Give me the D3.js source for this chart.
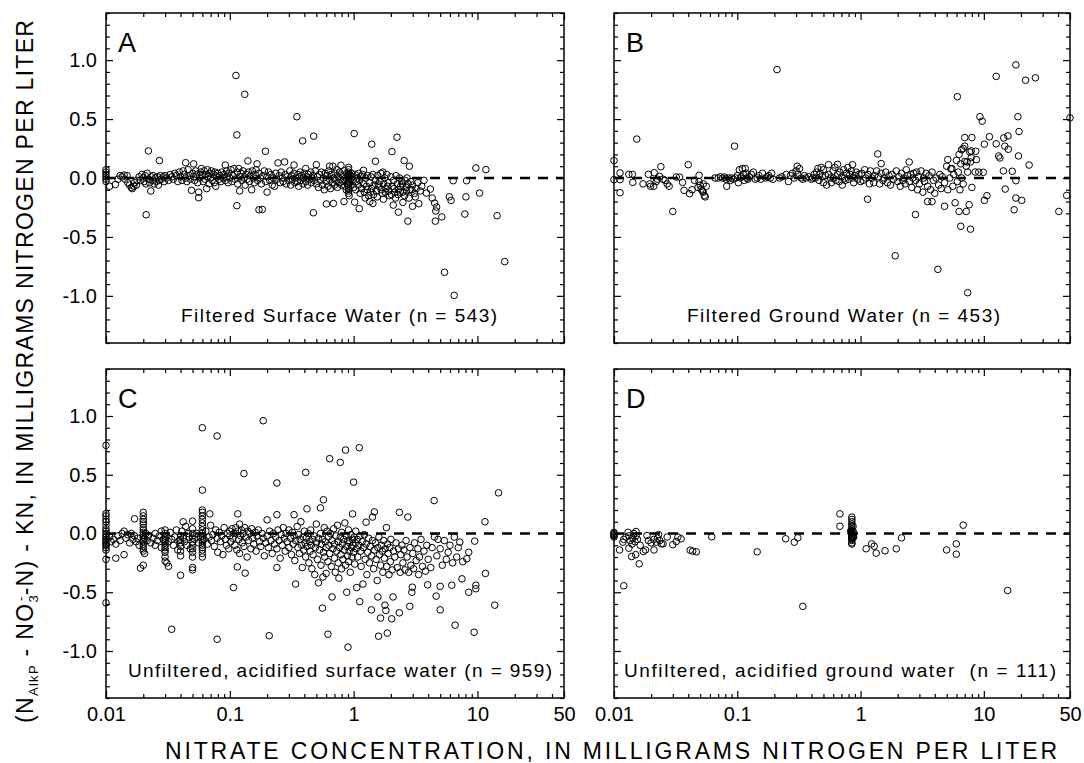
<!DOCTYPE html>
<html>
<head>
<meta charset="utf-8">
<script src="https://cdn.jsdelivr.net/npm/d3@7"></script>
<style>
  body { margin: 0; background: #fff; }
  svg { display: block; font-family: "Liberation Sans", Arial, Helvetica, sans-serif; }
</style>
</head>
<body>
<svg id="chart"></svg>
<script>
// difference (N_AlkP - NO3-N) - KN  vs nitrate concentration, [x mg/L, y mg/L]
const pointsA = [
  [0.01,0.07],[0.01,0.05],[0.01,0.03],[0.01,0.01],[0.01,-0.01],[0.01,-0.03],[0.0107,-0.07],[0.0119,-0.055],
  [0.0125,-0.01],[0.013,0.02],[0.0135,0.01],[0.014,0.025],[0.0142,-0.01],[0.0148,0.02],[0.015,-0.04],[0.0155,-0.06],
  [0.016,-0.08],[0.0163,-0.09],[0.0168,-0.07],[0.017,-0.04],[0.0176,-0.06],[0.0178,-0.02],
  [0.0185,0.01],[0.019,-0.02],[0.0195,0.03],[0.02,0.0],[0.0203,-0.03],[0.0207,0.02],[0.021,-0.05],[0.0215,0.04],
  [0.022,0.23],[0.0211,-0.312],[0.022,-0.01],[0.0225,-0.04],[0.023,-0.11],[0.0232,0.01],[0.0238,-0.02],[0.024,0.02],
  [0.0245,-0.05],[0.025,0.0],[0.0255,-0.03],[0.026,0.01],[0.027,0.148],[0.0265,-0.06],[0.027,-0.02],[0.0275,0.02],
  [0.028,-0.01],[0.029,0.01],[0.0295,-0.03],[0.03,0.02],
  [0.031,0.0],[0.032,-0.02],[0.033,0.03],[0.034,0.01],[0.035,-0.01],[0.036,0.04],[0.037,0.02],[0.038,-0.03],
  [0.039,0.05],[0.04,0.01],[0.041,-0.02],[0.042,0.06],[0.043,0.03],[0.044,0.13],[0.044,0.0],[0.045,-0.03],
  [0.046,0.07],[0.047,0.02],[0.048,-0.01],[0.049,-0.105],[0.05,0.04],[0.051,0.12],[0.051,0.01],
  [0.052,-0.02],[0.053,0.06],[0.054,0.03],[0.055,-0.04],[0.056,-0.12],[0.056,-0.167],[0.057,0.0],[0.058,0.05],
  [0.059,0.08],[0.06,0.02],[0.061,-0.03],[0.062,0.06],[0.063,-0.01],[0.064,0.03],[0.065,-0.09],[0.066,0.07],
  [0.067,0.01],[0.068,-0.05],[0.069,0.04],[0.07,0.0],[0.071,0.06],[0.072,-0.02],[0.074,0.03],[0.075,-0.04],
  [0.076,0.05],[0.077,-0.07],[0.078,0.01],[0.08,0.04],[0.082,-0.01],[0.083,0.02],[0.085,-0.03],[0.086,0.05],
  [0.088,0.0],[0.09,0.03],[0.092,0.11],[0.092,-0.02],[0.094,0.06],[0.095,0.01],[0.097,-0.04],[0.098,0.04],
  [0.1,0.0],[0.102,0.07],[0.104,-0.03],[0.106,0.02],[0.108,0.08],[0.11,-0.01],[0.112,0.87],[0.114,0.366],
  [0.114,-0.235],[0.115,0.05],[0.116,-0.05],[0.118,0.08],[0.12,-0.11],[0.121,0.01],[0.123,0.04],[0.125,-0.02],
  [0.128,0.06],[0.13,0.0],[0.132,0.71],[0.133,-0.06],[0.135,0.03],[0.138,-0.01],[0.14,0.145],[0.141,0.05],
  [0.144,-0.03],[0.147,0.02],[0.15,-0.1],[0.152,0.06],[0.155,0.0],[0.158,-0.04],[0.16,0.03],[0.163,0.07],
  [0.166,0.12],[0.168,-0.02],[0.172,-0.27],[0.172,0.04],[0.176,0.0],[0.18,-0.05],[0.183,-0.267],[0.185,0.02],
  [0.19,0.06],[0.194,0.227],[0.195,-0.03],
  [0.2,-0.12],[0.2,0.01],[0.205,0.05],[0.21,-0.02],[0.215,0.03],[0.22,-0.06],[0.225,0.0],[0.23,-0.07],
  [0.235,0.04],[0.24,-0.01],[0.245,0.128],[0.25,0.02],[0.255,-0.04],[0.26,0.05],[0.265,0.0],[0.27,-0.03],
  [0.277,0.136],[0.28,0.03],[0.285,-0.05],[0.29,0.01],[0.3,-0.02],[0.305,0.06],[0.31,-0.06],[0.315,0.02],
  [0.32,-0.01],[0.33,0.11],[0.33,0.04],[0.335,-0.04],[0.34,0.0],[0.348,0.52],[0.35,-0.03],[0.355,0.03],
  [0.36,-0.07],[0.365,0.01],[0.37,0.05],[0.375,-0.02],[0.387,0.315],[0.38,0.02],[0.39,-0.05],[0.395,0.0],
  [0.4,0.04],[0.41,0.08],[0.41,-0.03],[0.42,0.01],[0.425,-0.06],[0.43,0.03],[0.44,-0.01],[0.45,0.05],
  [0.455,-0.04],[0.46,0.0],[0.473,-0.295],[0.476,0.355],[0.47,0.02],[0.48,-0.02],[0.49,0.06],[0.5,0.113],[0.5,-0.05],
  [0.51,0.01],[0.52,-0.08],[0.53,0.03],[0.54,-0.02],[0.55,0.05],[0.56,-0.06],[0.57,0.0],[0.58,-0.1],
  [0.59,0.04],[0.6,-0.03],[0.603,-0.22],[0.61,0.02],[0.62,-0.07],[0.63,0.06],[0.64,0.1],[0.64,-0.01],
  [0.65,-0.09],[0.66,0.03],[0.67,-0.04],[0.68,0.1],[0.686,-0.216],[0.69,0.0],[0.7,-0.06],[0.71,0.04],
  [0.72,-0.02],[0.73,0.07],[0.74,-0.08],[0.75,0.01],[0.76,-0.04],[0.77,0.05],[0.78,-0.01],[0.79,0.108],
  [0.8,-0.06],[0.81,0.02],[0.82,-0.03],[0.836,-0.2],[0.84,0.06],[0.85,-0.07],[0.86,0.0],[0.87,-0.1],
  [0.88,0.04],[0.89,-0.05],[0.9,0.02],
  [0.91,0.09],[0.91,0.07],[0.91,0.05],[0.91,0.03],[0.91,0.01],[0.91,-0.01],[0.91,-0.03],[0.91,-0.05],
  [0.91,-0.07],[0.91,-0.09],[0.91,-0.11],[0.91,-0.13],[0.92,-0.15],[0.92,0.0],[0.93,-0.04],[0.94,0.02],
  [0.95,-0.06],[0.96,0.04],[0.97,-0.02],[0.98,0.01],
  [1.0,-0.08],[1.01,0.377],[1.02,-0.205],[1.03,0.03],[1.05,-0.03],[1.07,0.0],[1.09,-0.06],[1.1,0.04],
  [1.11,-0.26],[1.12,-0.02],[1.14,0.01],[1.16,-0.09],[1.18,0.03],[1.2,0.065],[1.2,-0.05],[1.22,-0.12],
  [1.25,0.0],[1.27,-0.07],[1.3,0.02],[1.32,-0.15],[1.35,-0.2],[1.35,-0.04],[1.38,0.01],[1.4,0.287],
  [1.4,-0.09],[1.43,-0.216],[1.43,0.03],[1.46,-0.06],[1.5,0.142],[1.5,-0.02],[1.53,-0.11],[1.56,0.02],
  [1.6,-0.07],[1.63,-0.03],[1.66,0.04],[1.7,-0.13],[1.72,0.05],[1.75,-0.05],[1.78,0.0],[1.82,-0.09],
  [1.85,0.03],[1.9,-0.04],[1.95,-0.15],[2.0,0.01],
  [1.04,-0.1],[1.13,-0.13],[1.24,-0.17],[1.29,-0.1],[1.37,-0.12],[1.45,-0.14],[1.55,-0.16],[1.58,-0.05],
  [1.67,-0.1],[1.74,-0.18],[1.8,-0.12],[1.88,-0.07],[1.93,-0.11],[2.02,-0.14],[2.12,-0.09],[2.18,-0.17],
  [2.28,-0.14],[2.38,-0.12],[2.48,-0.05],[2.58,-0.15],[2.68,-0.11],[2.8,-0.17],[2.95,-0.1],[3.15,-0.16],
  [2.04,0.224],[2.05,-0.07],[2.09,-0.23],[2.1,-0.02],[2.15,-0.12],[2.2,0.02],[2.24,0.346],[2.25,-0.05],
  [2.3,-0.29],[2.3,-0.1],[2.35,0.0],[2.4,-0.07],[2.45,-0.03],[2.5,-0.207],[2.5,-0.12],[2.56,0.148],
  [2.6,-0.02],[2.65,-0.08],[2.74,-0.366],[2.7,0.0],[2.75,-0.05],[2.82,0.10],[2.85,-0.1],[2.9,-0.03],
  [2.99,-0.24],[3.0,-0.06],[3.1,-0.13],[3.2,-0.09],[3.36,-0.218],[3.3,-0.04],[3.45,-0.11],[3.55,-0.07],
  [3.7,-0.02],[3.87,-0.128],[4.17,-0.094],[4.31,-0.17],[4.51,-0.213],[4.68,-0.247],[4.61,-0.28],[4.57,-0.366],
  [5.15,-0.33],[5.42,-0.8],[6.49,-0.996],[6.37,-0.023],[5.93,-0.16],[6.12,-0.19],[8.17,-0.023],[8.07,-0.16],
  [7.91,-0.306],[9.71,0.085],[11.7,0.071],[10.4,-0.128],[14.4,-0.32],[16.6,-0.709]
];

const pointsB = [
  [0.01,0.148],[0.01,-0.014],[0.0112,0.043],[0.0112,-0.014],[0.0112,-0.125],[0.0132,0.031],[0.0141,0.031],
  [0.0142,-0.037],[0.0153,0.33],[0.0172,-0.05],[0.019,0.031],[0.0212,0.045],[0.0195,-0.05],[0.0198,-0.07],
  [0.021,-0.07],[0.022,-0.03],[0.0234,0.014],[0.024,0.096],[0.0225,-0.01],[0.025,-0.01],[0.027,-0.05],
  [0.028,-0.07],[0.026,-0.02],[0.030,-0.284],[0.032,0.008],[0.034,0.008],[0.036,-0.037],[0.037,-0.105],
  [0.040,0.113],[0.041,-0.133],[0.043,-0.1],[0.045,-0.02],[0.049,0.023],[0.049,-0.03],[0.051,-0.094],
  [0.052,-0.11],[0.053,-0.12],[0.054,-0.15],[0.055,-0.16],[0.056,-0.07],[0.053,-0.05],[0.05,-0.06],[0.048,-0.08],
  [0.066,0.0],[0.07,0.0],[0.073,0.01],[0.076,0.0],[0.079,0.008],[0.081,-0.01],[0.082,-0.07],[0.085,0.0],
  [0.088,-0.02],[0.09,0.0],[0.095,0.27],[0.093,-0.01],[0.097,0.0],
  [0.1,0.02],[0.102,-0.04],[0.104,0.07],[0.106,0.0],[0.108,0.01],[0.11,0.08],[0.112,0.03],[0.114,-0.02],
  [0.116,0.08],[0.118,0.04],[0.12,0.0],[0.122,-0.01],[0.125,0.01],[0.13,0.03],[0.135,0.05],[0.14,-0.01],
  [0.145,0.0],[0.15,0.02],[0.155,-0.01],[0.16,0.04],[0.17,0.0],[0.175,0.01],[0.18,0.02],[0.185,0.0],
  [0.19,0.04],[0.195,-0.01],[0.21,0.92],
  [0.22,0.0],[0.23,0.01],[0.25,0.03],[0.26,-0.03],[0.27,0.02],[0.28,0.04],[0.29,0.0],[0.3,0.06],
  [0.306,0.1],[0.31,0.03],[0.32,0.08],[0.33,0.0],[0.34,-0.01],[0.35,0.02],[0.36,0.0],[0.38,0.01],
  [0.4,-0.01],[0.41,0.0],[0.42,0.03],[0.43,0.0],[0.44,0.05],[0.45,0.08],[0.46,-0.02],[0.47,0.04],
  [0.48,0.09],[0.49,0.01],[0.5,0.07],[0.5,-0.04],
  [0.52,0.02],[0.53,-0.06],[0.55,0.113],[0.55,0.03],[0.57,0.0],[0.58,-0.04],[0.6,0.06],[0.6,0.0],
  [0.62,0.09],[0.63,-0.02],[0.65,0.116],[0.65,0.03],[0.67,-0.03],[0.68,0.05],[0.7,0.01],[0.71,-0.06],
  [0.73,0.07],[0.74,0.0],[0.75,-0.02],[0.77,0.04],[0.79,0.09],[0.8,-0.01],[0.82,0.03],[0.84,0.06],
  [0.86,0.113],[0.86,0.0],[0.88,-0.04],[0.9,0.02],[0.92,0.05],[0.95,-0.01],[0.97,0.03],[1.0,-0.03],
  [1.02,0.04],[1.05,-0.02],[1.08,0.07],[1.1,0.0],[1.14,-0.18],[1.15,0.03],[1.18,-0.05],[1.2,0.06],
  [1.24,0.0],[1.28,-0.04],[1.3,0.02],[1.35,0.06],[1.38,0.204],[1.4,0.01],[1.43,-0.05],[1.47,0.122],
  [1.47,0.04],[1.52,-0.02],[1.56,0.0],[1.6,0.05],[1.65,-0.04],[1.7,0.02],[1.75,-0.06],[1.8,0.03],
  [1.85,-0.01],[1.91,-0.66],[1.95,0.06],[2.0,-0.03],[2.05,0.01],[2.1,-0.07],[2.15,0.04],[2.2,-0.02],
  [2.25,0.0],[2.3,-0.05],[2.35,0.07],[2.4,0.02],[2.48,0.136],[2.5,-0.03],[2.55,0.03],[2.6,-0.08],
  [2.65,0.0],[2.7,0.04],[2.79,-0.31],[2.8,-0.02],[2.85,0.05],[2.9,-0.1],[2.95,0.01],
  [3.0,-0.05],[3.1,0.06],[3.2,-0.12],[3.25,0.0],[3.3,-0.03],[3.4,0.04],[3.5,-0.2],[3.5,-0.07],
  [3.6,0.02],[3.7,-0.1],[3.8,-0.2],[3.8,0.05],[3.9,-0.02],[4.0,-0.13],[4.1,0.0],[4.24,-0.775],
  [4.3,-0.06],[4.4,0.03],[4.5,-0.09],[4.6,0.01],[4.8,-0.24],[4.8,-0.04],[5.0,0.1],[5.1,-0.1],
  [5.1,0.156],[5.3,0.0],[5.4,0.077],[5.5,0.08],[5.6,-0.07],[5.85,-0.21],[5.7,0.03],[6.0,0.15],
  [6.1,0.69],[6.1,-0.03],[6.2,0.05],[6.3,-0.284],[6.3,0.2],[6.4,-0.1],[6.5,-0.41],[6.5,0.12],
  [6.6,0.24],[6.6,0.0],[6.8,0.25],[6.8,-0.05],[7.0,0.343],[7.0,0.27],[7.0,0.14],[7.2,-0.284],
  [7.2,0.1],[7.3,0.136],[7.4,-0.973],[7.4,0.05],[7.6,-0.227],[7.7,0.22],[7.8,-0.434],[7.8,0.136],
  [7.9,0.23],[7.9,0.173],[8.0,0.343],[8.0,-0.08],[8.5,0.051],[8.6,0.227],[8.7,0.156],[9.1,0.05],
  [9.3,0.52],[9.7,0.482],[9.9,0.048],[10.1,0.287],[10.1,-0.19],[10.6,-0.15],
  [11.1,0.35],[12.6,0.862],[12.6,0.29],[13.2,0.187],[13.5,0.17],[14.4,0.06],[14.5,0.34],[14.8,0.27],
  [14.9,-0.094],[15.7,0.357],[15.8,0.244],[17,0.057],[17.6,-0.27],[18.2,0.96],[18.2,-0.023],[18.2,-0.17],
  [18.9,0.52],[19.1,0.187],[19.3,0.394],[20.3,-0.19],[21.8,0.83],[23.3,0.11],[26.2,0.85],[40.6,-0.284],
  [47.0,-0.148],[50,0.51]
];

const pointsC = [
  [0.01,0.75],[0.01,0.17],[0.01,0.15],[0.01,0.12],[0.01,0.10],[0.01,0.07],[0.01,0.04],[0.01,0.02],
  [0.01,0.0],[0.01,-0.02],[0.01,-0.03],[0.01,-0.05],[0.01,-0.06],[0.01,-0.08],[0.01,-0.09],[0.01,-0.1],
  [0.01,-0.12],[0.01,-0.14],[0.01,-0.22],[0.01,-0.59],
  [0.0107,-0.03],[0.011,-0.07],[0.0115,-0.05],[0.012,-0.21],[0.012,-0.09],[0.0125,-0.02],[0.013,-0.06],
  [0.0135,0.0],[0.014,-0.18],[0.014,0.02],[0.0145,-0.04],[0.015,-0.01],[0.0155,-0.08],[0.016,0.0],
  [0.0165,-0.05],[0.017,0.125],[0.017,-0.02],[0.0175,-0.07],[0.018,-0.04],[0.0185,-0.1],
  [0.019,-0.295],[0.02,-0.27],[0.02,0.18],[0.02,0.15],[0.02,0.12],[0.02,0.1],[0.02,0.08],[0.02,0.05],
  [0.02,0.03],[0.02,0.01],[0.02,-0.01],[0.02,-0.03],[0.02,-0.05],[0.02,-0.07],[0.02,-0.09],[0.02,-0.11],
  [0.02,-0.13],[0.02,-0.15],[0.0205,-0.17],[0.0205,-0.04],[0.021,0.0],[0.0215,-0.06],[0.022,-0.02],
  [0.023,-0.08],[0.024,-0.04],[0.025,-0.1],[0.025,0.0],[0.026,-0.06],[0.027,-0.02],[0.028,-0.12],
  [0.028,0.02],[0.029,-0.05],
  [0.03,0.03],[0.03,0.0],[0.03,-0.02],[0.03,-0.04],[0.03,-0.06],[0.03,-0.08],[0.03,-0.1],[0.03,-0.12],
  [0.03,-0.14],[0.03,-0.16],[0.03,-0.2],[0.03,-0.235],[0.031,-0.25],[0.032,-0.28],[0.032,-0.07],
  [0.033,0.01],[0.034,-0.05],[0.0339,-0.815],[0.035,-0.1],[0.036,-0.03],[0.037,0.03],[0.038,-0.14],
  [0.039,-0.06],
  [0.04,-0.355],[0.04,-0.02],[0.04,-0.05],[0.04,-0.08],[0.04,-0.11],[0.04,-0.15],[0.04,-0.19],[0.041,0.02],
  [0.042,0.1],[0.042,-0.04],[0.043,-0.07],[0.044,0.06],[0.045,-0.1],[0.046,0.0],[0.047,-0.03],[0.048,-0.13],
  [0.05,0.105],[0.05,0.04],[0.05,0.0],[0.05,-0.02],[0.05,-0.04],[0.05,-0.07],[0.05,-0.1],[0.05,-0.13],
  [0.05,-0.16],[0.05,-0.2],[0.05,-0.29],[0.05,-0.31],[0.052,-0.05],[0.054,0.0],[0.056,-0.08],[0.058,-0.03],
  [0.06,0.9],[0.06,0.37],[0.06,0.2],[0.06,0.18],[0.06,0.15],[0.06,0.12],[0.06,0.09],[0.06,0.06],
  [0.06,0.03],[0.06,0.0],[0.06,-0.02],[0.06,-0.04],[0.06,-0.06],[0.06,-0.08],[0.06,-0.1],[0.06,-0.12],
  [0.06,-0.14],[0.06,-0.17],[0.06,-0.2],[0.062,-0.05],[0.064,0.02],[0.066,-0.09],[0.068,-0.03],
  [0.069,0.167],[0.07,0.07],[0.071,-0.06],[0.073,-0.01],[0.075,-0.11],[0.077,0.03],[0.079,0.83],
  [0.079,-0.9],[0.079,-0.04],[0.08,-0.16],[0.082,0.01],[0.084,-0.07],[0.086,-0.02],[0.088,-0.18],
  [0.09,0.05],[0.092,-0.05],[0.094,-0.1],[0.096,0.0],[0.098,-0.13],
  [0.1,-0.02],[0.1,0.02],[0.102,-0.07],[0.104,0.04],[0.106,-0.04],[0.107,-0.46],[0.108,0.0],[0.11,-0.1],
  [0.112,0.05],[0.114,-0.14],[0.115,-0.284],[0.116,0.167],[0.116,0.02],[0.118,-0.05],[0.12,0.08],
  [0.12,-0.17],[0.122,-0.02],[0.124,0.03],[0.126,-0.08],[0.128,0.0],[0.13,0.51],[0.13,-0.11],[0.132,0.05],
  [0.133,-0.337],[0.135,-0.03],[0.138,-0.2],[0.14,0.02],[0.142,-0.06],[0.145,0.0],[0.148,-0.13],[0.15,0.04],
  [0.153,-0.04],[0.156,-0.09],[0.16,0.01],[0.163,-0.15],[0.166,-0.02],[0.17,0.03],[0.174,-0.07],
  [0.178,-0.11],[0.182,0.0],[0.186,0.96],[0.186,-0.04],[0.19,-0.19],[0.195,-0.08],
  [0.2,0.116],[0.2,-0.02],[0.205,-0.12],[0.208,-0.87],[0.21,0.02],[0.215,-0.06],[0.22,-0.17],[0.225,0.0],
  [0.23,-0.09],[0.235,-0.03],[0.24,0.43],[0.24,0.16],[0.24,-0.29],[0.24,-0.13],[0.245,0.03],[0.25,-0.06],
  [0.255,-0.21],[0.26,-0.01],[0.265,-0.1],[0.27,0.05],[0.275,-0.04],[0.28,-0.15],[0.285,0.0],[0.29,-0.07],
  [0.3,-0.12],[0.3,0.03],[0.31,-0.04],[0.315,-0.18],[0.32,0.01],[0.325,-0.09],[0.33,0.16],[0.33,-0.02],
  [0.335,-0.23],[0.34,-0.43],[0.34,-0.06],[0.35,0.06],[0.355,-0.12],[0.36,-0.01],[0.365,-0.17],[0.37,-0.05],
  [0.375,0.1],[0.38,-0.1],[0.385,-0.29],[0.39,-0.03],[0.395,-0.14],[0.4,0.02],[0.405,-0.08],[0.41,0.52],
  [0.41,-0.2],[0.415,-0.04],[0.42,0.21],[0.42,-0.11],[0.43,0.0],[0.435,-0.25],[0.44,-0.07],[0.445,-0.15],
  [0.45,0.03],[0.455,-0.1],[0.46,-0.3],[0.465,-0.05],[0.47,-0.18],[0.48,-0.02],[0.485,-0.35],[0.49,-0.12],
  [0.5,0.08],[0.5,-0.08],
  [0.51,-0.22],[0.52,-0.04],[0.52,-0.42],[0.53,-0.14],[0.54,0.218],[0.54,0.0],[0.545,-0.27],[0.55,-0.09],
  [0.56,-0.635],[0.56,-0.05],[0.565,-0.37],[0.57,0.287],[0.57,-0.16],[0.58,0.05],[0.585,-0.2],[0.59,-0.07],
  [0.6,-0.12],[0.6,-0.34],[0.61,0.02],[0.62,-0.857],[0.62,-0.24],[0.625,-0.03],[0.63,-0.1],[0.64,0.637],
  [0.64,-0.17],[0.65,0.0],[0.66,-0.28],[0.67,-0.54],[0.67,-0.06],[0.68,-0.13],[0.69,0.04],[0.7,-0.21],
  [0.7,-0.09],[0.71,-0.33],[0.72,-0.02],[0.73,-0.15],[0.74,0.07],[0.75,-0.25],[0.75,-0.07],[0.76,-0.38],
  [0.77,-0.12],[0.78,0.605],[0.78,-0.03],[0.79,-0.18],[0.8,-0.3],[0.8,0.01],[0.81,-0.09],[0.82,-0.22],
  [0.83,-0.05],[0.84,-0.14],[0.85,0.09],[0.86,0.71],[0.86,-0.27],[0.87,-0.02],[0.88,-0.11],[0.88,-0.5],
  [0.89,-0.19],[0.9,-0.967],[0.9,-0.06],[0.91,0.03],[0.91,-0.24],[0.92,-0.15],[0.93,-0.08],[0.94,-0.33],
  [0.95,-0.01],[0.96,-0.12],[0.97,-0.2],[0.98,0.167],[0.98,-0.05],[0.99,-0.1],
  [1.0,0.437],[1.0,-0.16],[1.01,-0.03],[1.02,-0.26],[1.03,-0.08],[1.04,0.02],[1.05,-0.13],[1.06,-0.46],
  [1.07,-0.05],[1.08,-0.2],[1.1,-0.1],[1.11,0.73],[1.12,-0.58],[1.12,-0.02],[1.14,-0.15],[1.15,-0.28],
  [1.17,-0.07],[1.19,-0.43],[1.2,-0.12],[1.22,-0.01],[1.24,-0.22],[1.26,0.096],[1.26,-0.09],[1.28,-0.35],
  [1.3,-0.16],[1.32,-0.04],[1.34,-0.25],[1.36,-0.11],[1.39,-0.65],[1.4,-0.19],[1.42,0.14],[1.42,-0.06],
  [1.45,-0.3],[1.47,0.184],[1.47,-0.14],[1.5,-0.08],[1.52,-0.22],[1.55,-0.4],[1.57,-0.54],[1.57,-0.12],
  [1.59,-0.874],[1.6,-0.03],[1.62,-0.18],[1.65,-0.72],[1.65,-0.27],[1.68,-0.1],[1.7,-0.15],[1.72,-0.33],
  [1.75,-0.06],[1.77,-0.21],[1.79,-0.61],[1.8,-0.13],[1.82,-0.655],[1.84,0.05],[1.85,-0.28],[1.87,-0.848],
  [1.88,-0.09],[1.9,-0.17],[1.93,-0.35],[1.96,-0.12],[1.98,-0.24],
  [2.0,-0.05],[2.03,-0.726],[2.05,-0.31],[2.08,-0.54],[2.1,-0.15],[2.15,-0.2],[2.2,-0.08],[2.25,-0.29],
  [2.3,-0.13],[2.34,0.18],[2.34,-0.675],[2.38,-0.33],[2.4,-0.18],[2.45,-0.1],[2.5,-0.25],[2.55,-0.14],
  [2.6,-0.31],[2.65,-0.06],[2.7,-0.2],[2.74,0.14],[2.78,-0.33],[2.84,-0.62],[2.85,-0.12],[2.9,-0.27],
  [2.95,-0.5],[2.98,-0.457],[3.0,-0.17],[3.05,-0.3],[3.1,-0.08],[3.2,-0.23],[3.3,-0.13],[3.35,-0.35],
  [3.4,-0.2],[3.5,-0.05],[3.6,-0.28],[3.7,-0.15],[3.8,-0.32],[3.9,-0.1],[3.96,-0.437],[4.0,-0.22],
  [4.2,-0.29],[4.3,-0.12],[4.47,0.28],[4.5,-0.03],[4.64,-0.533],[4.7,-0.19],[4.8,-0.05],
  [5.0,-0.45],[5.0,-0.65],[5.0,-0.13],[5.2,-0.27],[5.4,-0.06],[5.6,-0.22],[5.8,-0.16],[6.0,-0.1],
  [6.2,-0.44],[6.3,-0.25],[6.5,-0.03],[6.6,-0.78],[6.8,-0.2],[7.0,-0.12],[7.2,-0.073],[7.5,-0.386],
  [7.6,-0.24],[8.2,-0.215],[8.5,-0.16],[8.5,-0.5],[9.4,-0.84],[9.5,-0.065],[9.7,-0.44],[9.7,-0.47],
  [11.5,0.1],[11.6,-0.34],[13.8,-0.61],[14.8,0.346]
];

const pointsD = [
  [0.01,0.01],[0.01,0.0],[0.01,-0.01],[0.01,-0.02],[0.01,-0.03],[0.0111,-0.14],[0.012,-0.445],[0.0118,-0.074],
  [0.012,-0.05],[0.0125,-0.03],[0.013,0.01],[0.0132,-0.125],[0.0132,-0.02],[0.0135,-0.06],[0.0139,-0.196],
  [0.014,-0.09],[0.0142,-0.04],[0.0145,0.0],[0.0148,-0.07],[0.0151,0.017],[0.0151,-0.02],[0.015,-0.18],
  [0.0155,-0.05],[0.016,-0.258],[0.0163,-0.1],[0.0173,-0.153],[0.018,-0.14],[0.0185,-0.017],[0.019,-0.06],
  [0.02,-0.08],[0.0211,-0.14],[0.021,-0.05],[0.022,-0.074],[0.0225,-0.04],[0.023,-0.01],[0.0235,-0.06],
  [0.0242,-0.088],[0.025,-0.088],[0.027,-0.03],[0.03,-0.095],[0.032,-0.068],[0.033,-0.03],[0.035,-0.045],
  [0.0415,-0.142],[0.0435,-0.15],[0.0465,-0.156],[0.062,-0.028],[0.145,-0.156],[0.247,-0.045],[0.29,-0.074],
  [0.31,-0.037],[0.34,-0.62],[0.68,0.167],[0.68,0.062],
  [0.85,0.14],[0.85,0.12],[0.85,0.1],[0.85,0.08],[0.85,0.06],[0.85,0.04],[0.85,0.03],[0.85,0.02],
  [0.85,0.01],[0.85,0.0],[0.85,-0.01],[0.85,-0.02],[0.85,-0.03],[0.85,-0.04],[0.85,-0.05],[0.85,-0.06],
  [0.85,-0.08],[0.85,-0.09],[0.84,0.0],[0.86,-0.02],[0.87,0.06],[0.87,-0.03],[0.88,-0.03],[0.88,0.01],
  [0.83,0.02],
  [1.11,-0.13],[1.23,-0.088],[1.29,-0.108],[1.34,-0.167],[1.58,-0.147],[1.95,-0.13],[2.15,-0.037],
  [4.99,-0.14],[5.98,-0.088],[5.98,-0.176],[6.8,0.071],[15.6,-0.485]
];

const panelKeys = ["A", "B", "C", "D"];
const panelNotes = [
  "Filtered Surface Water (n = 543)",
  "Filtered Ground Water (n = 453)",
  "Unfiltered, acidified surface water (n = 959)",
  "Unfiltered, acidified ground water  (n = 111)"
];
const xMajorTicks = [0.01, 0.1, 1, 10, 50];
const xTickLabels = ["0.01", "0.1", "1", "10", "50"];
const yMajorTicks = [-1, -0.5, 0, 0.5, 1];
const yTickLabels = ["-1.0", "-0.5", "0.0", "0.5", "1.0"];

const width = 1084, height = 763;
const svg = d3.select("#chart").attr("width", width).attr("height", height);

// 2..9 of each decade, and 20,30,40 below the 50 end
const xMinorTicks = [];
[0.01, 0.1, 1, 10].forEach(function (d) {
  for (let m = 2; m <= 9; m++) if (d * m < 50) xMinorTicks.push(d * m);
});
const yMinorTicks = d3.range(-14, 15).map(i => i / 10).filter(v => Math.abs(v * 2 - Math.round(v * 2)) > 1e-6);

const frames = [
  { data: pointsA, x0: 106, x1: 564, y0: 13, y1: 343, yLab: true, xLab: false, nx: 181, nw: 316, ny: 322 },
  { data: pointsB, x0: 614, x1: 1070, y0: 13, y1: 343, yLab: false, xLab: false, nx: 687, nw: 313, ny: 322 },
  { data: pointsC, x0: 106, x1: 564, y0: 369, y1: 698, yLab: true, xLab: true, nx: 128, nw: 424, ny: 677 },
  { data: pointsD, x0: 614, x1: 1070, y0: 369, y1: 698, yLab: false, xLab: true, nx: 624, nw: 432, ny: 677 }
];

function fitWidth(sel, target) {
  const node = sel.node();
  const n = node.getNumberOfChars();
  const w = node.getComputedTextLength();
  sel.attr("letter-spacing", (target - w) / (n - 1));
}

function styleAxis(g) {
  g.select(".domain").remove();
  g.selectAll(".tick line").attr("stroke", "#000").attr("stroke-width", 1.2);
  g.selectAll(".tick text").attr("fill", "#000").style("font-size", "20px")
    .style("font-family", '"Liberation Sans", Arial, sans-serif');
}

frames.forEach(function (p, i) {
  const x = d3.scaleLog().domain([0.01, 50]).range([p.x0, p.x1]);
  const y = d3.scaleLinear().domain([-1.4, 1.4]).range([p.y1, p.y0]);
  const g = svg.append("g");

  // minor + major ticks on all four sides, pointing inward
  const xFmt = (d, k) => p.xLab ? xTickLabels[k] : "";
  const yFmt = (d, k) => p.yLab ? yTickLabels[k] : "";

  g.append("g").attr("transform", `translate(0,${p.y1})`)
    .call(d3.axisBottom(x).tickValues(xMinorTicks).tickSize(-4).tickSizeOuter(0).tickFormat("")).call(styleAxis);
  g.append("g").attr("transform", `translate(0,${p.y1})`)
    .call(d3.axisBottom(x).tickValues(xMajorTicks).tickSize(-7).tickSizeOuter(0).tickPadding(9).tickFormat(xFmt)).call(styleAxis);
  g.append("g").attr("transform", `translate(0,${p.y0})`)
    .call(d3.axisTop(x).tickValues(xMinorTicks).tickSize(-4).tickSizeOuter(0).tickFormat("")).call(styleAxis);
  g.append("g").attr("transform", `translate(0,${p.y0})`)
    .call(d3.axisTop(x).tickValues(xMajorTicks).tickSize(-7).tickSizeOuter(0).tickFormat("")).call(styleAxis);

  g.append("g").attr("transform", `translate(${p.x0},0)`)
    .call(d3.axisLeft(y).tickValues(yMinorTicks).tickSize(-4).tickSizeOuter(0).tickFormat("")).call(styleAxis);
  g.append("g").attr("transform", `translate(${p.x0},0)`)
    .call(d3.axisLeft(y).tickValues(yMajorTicks).tickSize(-7).tickSizeOuter(0).tickPadding(9).tickFormat(yFmt)).call(styleAxis);
  g.append("g").attr("transform", `translate(${p.x1},0)`)
    .call(d3.axisRight(y).tickValues(yMinorTicks).tickSize(-4).tickSizeOuter(0).tickFormat("")).call(styleAxis);
  g.append("g").attr("transform", `translate(${p.x1},0)`)
    .call(d3.axisRight(y).tickValues(yMajorTicks).tickSize(-7).tickSizeOuter(0).tickFormat("")).call(styleAxis);

  g.append("rect")
    .attr("x", p.x0).attr("y", p.y0)
    .attr("width", p.x1 - p.x0).attr("height", p.y1 - p.y0)
    .attr("fill", "none").attr("stroke", "#000").attr("stroke-width", 1.5);

  // zero line
  g.append("line")
    .attr("x1", x(0.01)).attr("x2", x(50))
    .attr("y1", y(0)).attr("y2", y(0))
    .attr("stroke", "#000").attr("stroke-width", 2.5)
    .attr("stroke-dasharray", "10,8");

  g.selectAll(".pt")
    .data(p.data)
    .enter()
    .append("circle")
    .attr("class", "pt")
    .attr("cx", d => x(d[0]))
    .attr("cy", d => y(d[1]))
    .attr("r", 3.3)
    .attr("fill", "none")
    .attr("stroke", "#000")
    .attr("stroke-width", 1);

  g.append("text")
    .attr("x", p.x0 + 12).attr("y", p.y0 + 39)
    .style("font-size", "27px")
    .text(panelKeys[i]);

  const note = g.append("text")
    .attr("x", p.nx).attr("y", p.ny)
    .style("font-size", "19px")
    .style("white-space", "pre")
    .text(panelNotes[i]);
  fitWidth(note, p.nw);
});

const xTitle = svg.append("text")
  .attr("x", 165).attr("y", 759)
  .style("font-size", "23px")
  .text("NITRATE CONCENTRATION, IN MILLIGRAMS NITROGEN PER LITER");
fitWidth(xTitle, 892);

const yTitle = svg.append("text")
  .attr("transform", "translate(33,723) rotate(-90)")
  .style("font-size", "23px");
yTitle.append("tspan").text("(N");
yTitle.append("tspan").attr("dy", 5).style("font-size", "13px").text("AlkP");
yTitle.append("tspan").attr("dy", -5).text(" - NO");
yTitle.append("tspan").attr("dy", 5).style("font-size", "13px").text("3");
yTitle.append("tspan").attr("dx", -7).attr("dy", -13).style("font-size", "13px").text("-");
yTitle.append("tspan").attr("dy", 8).text("-N) - KN, IN MILLIGRAMS NITROGEN PER LITER");
fitWidth(yTitle, 710);
</script>
</body>
</html>
